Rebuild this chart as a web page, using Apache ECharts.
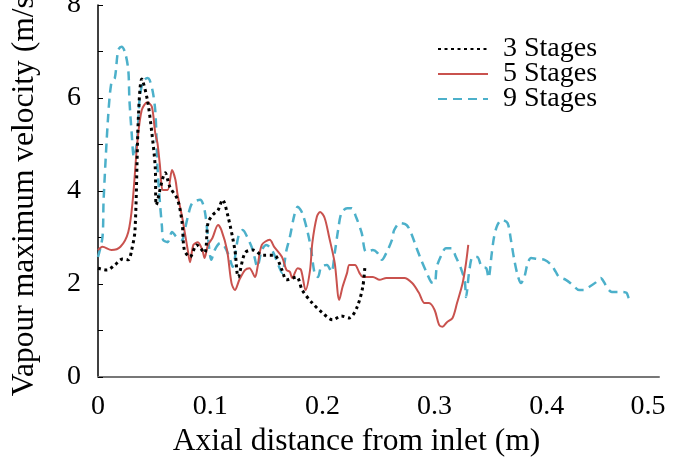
<!DOCTYPE html>
<html><head><meta charset="utf-8">
<script src="https://cdn.jsdelivr.net/npm/echarts@6/dist/echarts.min.js"></script>
<style>html,body{margin:0;padding:0;background:#fff}#c{width:674px;height:467px}</style>
</head><body><div id="c"></div>
<script>
const seriesNames = ['3 Stages', '5 Stages', '9 Stages'];
const xTickLabels = ['0', '0.1', '0.2', '0.3', '0.4', '0.5'];
const yTickLabels = ['0', '2', '4', '6', '8'];

const stage3X = [0,0.008,0.015,0.022,0.027,0.030,0.033,0.036,0.039,0.044,0.048,0.051,0.052,0.060,0.064,0.071,0.075,0.077,0.082,0.088,0.095,0.098,0.102,0.107,0.111,0.116,0.122,0.125,0.131,0.138,0.147,0.157,0.164,0.168,0.177,0.182,0.191,0.200,0.209,0.217,0.224,0.231,0.236,0.238];
const stage3Y = [2.34,2.30,2.41,2.54,2.52,2.73,3.16,5.59,6.41,5.96,5.25,4.52,3.70,4.39,4.09,3.81,3.31,2.73,2.58,2.84,2.67,3.31,3.48,3.59,3.81,3.44,2.73,2.15,2.67,2.73,2.62,2.62,2.30,2.09,2.15,1.87,1.59,1.38,1.23,1.31,1.27,1.51,1.94,2.41];

const stage5X = [0,0.004,0.012,0.020,0.027,0.031,0.035,0.039,0.044,0.048,0.051,0.053,0.055,0.058,0.062,0.066,0.069,0.071,0.075,0.077,0.080,0.082,0.085,0.089,0.093,0.095,0.098,0.102,0.107,0.110,0.115,0.119,0.122,0.126,0.131,0.135,0.140,0.142,0.146,0.153,0.157,0.164,0.168,0.171,0.173,0.178,0.181,0.185,0.189,0.191,0.195,0.198,0.202,0.206,0.211,0.215,0.218,0.222,0.224,0.229,0.233,0.236,0.245,0.251,0.257,0.264,0.273,0.280,0.286,0.291,0.295,0.300,0.304,0.307,0.311,0.316,0.320,0.325,0.328,0.330];
const stage5Y = [2.73,2.80,2.73,2.80,3.12,3.81,5.03,5.74,5.91,5.81,5.25,5.03,4.60,4.02,4.02,4.45,4.24,3.91,3.44,3.16,2.73,2.47,2.84,2.90,2.73,2.56,2.84,2.99,3.27,3.16,2.73,2.02,1.87,2.09,2.30,2.34,2.15,2.34,2.84,2.95,2.80,2.58,2.30,2.26,2.13,2.34,2.30,1.87,2.30,2.88,3.44,3.55,3.42,3.01,2.45,1.66,1.94,2.24,2.41,2.41,2.24,2.15,2.15,2.09,2.13,2.13,2.13,2.02,1.81,1.59,1.59,1.44,1.12,1.08,1.18,1.27,1.59,2.02,2.45,2.84];

const stage9X = [0,0.004,0.005,0.009,0.012,0.015,0.018,0.021,0.024,0.027,0.028,0.030,0.032,0.035,0.037,0.040,0.044,0.046,0.049,0.051,0.052,0.053,0.055,0.057,0.058,0.062,0.066,0.070,0.075,0.077,0.080,0.084,0.091,0.095,0.098,0.101,0.104,0.109,0.113,0.117,0.120,0.125,0.129,0.133,0.138,0.142,0.146,0.150,0.155,0.159,0.164,0.168,0.171,0.175,0.178,0.182,0.187,0.190,0.193,0.196,0.199,0.204,0.208,0.211,0.214,0.217,0.222,0.226,0.230,0.235,0.239,0.245,0.249,0.253,0.257,0.262,0.264,0.269,0.275,0.279,0.284,0.288,0.293,0.297,0.300,0.302,0.306,0.310,0.315,0.319,0.324,0.327,0.328,0.331,0.334,0.338,0.342,0.346,0.348,0.351,0.353,0.356,0.360,0.365,0.368,0.371,0.374,0.377,0.380,0.383,0.386,0.391,0.398,0.404,0.408,0.411,0.417,0.423,0.429,0.433,0.438,0.444,0.448,0.451,0.454,0.458,0.466,0.471,0.473,0.476];
const stage9Y = [2.58,3.01,3.81,5.59,6.34,6.43,7.03,7.10,6.99,6.60,5.96,5.25,4.73,5.10,5.96,6.34,6.43,6.39,6.11,5.74,5.25,4.52,3.81,3.23,2.95,2.90,3.12,3.01,2.95,3.12,3.44,3.74,3.81,3.59,3.01,2.52,2.73,2.88,2.80,2.58,2.37,3.01,3.16,3.01,2.73,2.37,2.73,2.84,2.73,2.52,2.24,2.73,3.01,3.48,3.66,3.53,3.10,2.73,2.24,2.15,2.37,2.41,2.26,2.67,3.16,3.53,3.63,3.63,3.44,3.10,2.69,2.73,2.67,2.52,2.67,2.95,3.16,3.31,3.27,3.10,2.77,2.52,2.24,2.04,2.02,2.37,2.62,2.77,2.77,2.58,2.30,2.04,1.72,2.30,2.58,2.58,2.37,2.34,2.13,2.67,3.01,3.27,3.38,3.31,2.95,2.52,2.19,2.02,2.15,2.45,2.56,2.54,2.52,2.41,2.26,2.15,2.09,1.98,1.87,1.87,1.94,2.04,2.13,2.04,1.91,1.83,1.83,1.81,1.70,1.61];

function pairs(xs, ys) { return xs.map((x, i) => [x, ys[i]]); }

const FONT = 'Liberation Serif';
const chart = echarts.init(document.getElementById('c'), null, {renderer: 'canvas'});
chart.setOption({
  animation: false,
  backgroundColor: '#fff',
  grid: {left: 98, right: 15, top: 5, bottom: 90, containLabel: false, outerBoundsMode: 'none'},
  legend: {
    orient: 'vertical', left: 432, top: 30, itemWidth: 50, itemHeight: 14, itemGap: -3,
    itemStyle: {opacity: 0},
    textStyle: {fontFamily: FONT, fontSize: 28, color: '#000', lineHeight: 25.5, padding: [0, 0, 0, 10]},
    data: seriesNames
  },
  xAxis: {
    type: 'value', min: 0, max: 0.5, interval: 0.1,
    name: 'Axial distance from inlet (m)', nameLocation: 'middle', nameGap: 46,
    nameTextStyle: {fontFamily: FONT, fontSize: 31.5, color: '#000', padding: [0, 44, 0, 0]},
    axisLine: {show: true, lineStyle: {color: '#777', width: 2}},
    axisTick: {show: false},
    splitLine: {show: false},
    axisLabel: {fontFamily: FONT, fontSize: 28, color: '#000', margin: 16,
      rich: {last: {fontFamily: FONT, fontSize: 28, color: '#000', padding: [0, 22, 0, 0]}},
      formatter: v => {
        const i = Math.round(v * 10);
        if (Math.abs(v * 10 - i) > 1e-6 || xTickLabels[i] === undefined) return '';
        return i === xTickLabels.length - 1 ? '{last|' + xTickLabels[i] + '}' : xTickLabels[i];
      }}
  },
  yAxis: {
    type: 'value', min: 0, max: 8, interval: 1,
    name: 'Vapour maximum velocity (m/s)', nameLocation: 'middle', nameGap: 57,
    nameTextStyle: {fontFamily: FONT, fontSize: 31.5, color: '#000'},
    axisLine: {show: true, lineStyle: {color: '#000', width: 1.5}},
    axisTick: {show: true, inside: true, length: 5, lineStyle: {color: '#000', width: 1}},
    splitLine: {show: false},
    axisLabel: {fontFamily: FONT, fontSize: 28, color: '#000', margin: 17,
      formatter: v => (v % 2 === 0 ? yTickLabels[v / 2] : '')}
  },
  series: [
    {name: seriesNames[0], type: 'line', data: pairs(stage3X, stage3Y), symbol: 'none', smooth: 0.3,
     lineStyle: {color: '#000', width: 3, type: [3, 3.5]}, itemStyle: {color: '#000'}, z: 3},
    {name: seriesNames[1], type: 'line', data: pairs(stage5X, stage5Y), symbol: 'none', smooth: 0.3,
     lineStyle: {color: '#c9524e', width: 2}, itemStyle: {color: '#c9524e'}, z: 2},
    {name: seriesNames[2], type: 'line', data: pairs(stage9X, stage9Y), symbol: 'none', smooth: 0.3,
     lineStyle: {color: '#4cb0ca', width: 2.5, type: [9, 6]}, itemStyle: {color: '#4cb0ca'}, z: 1}
  ]
});
</script></body></html>
